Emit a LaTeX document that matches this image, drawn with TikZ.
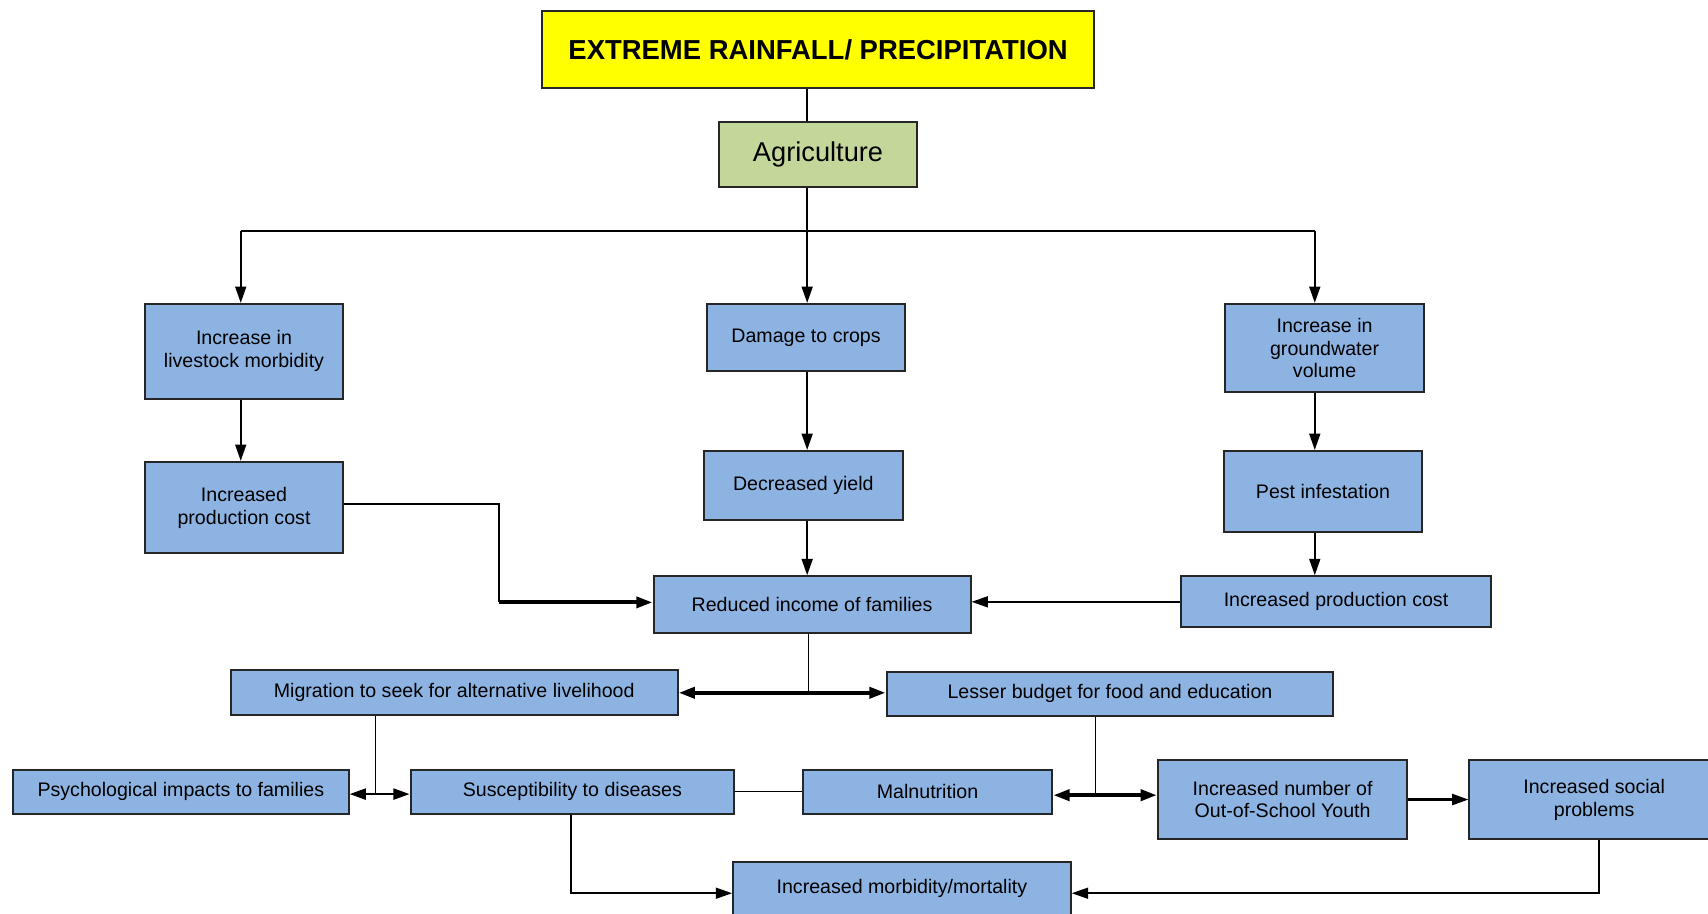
\documentclass[tikz,border=0pt]{standalone}
\usepackage{fontspec}
\setmainfont{Liberation Sans}
\usetikzlibrary{arrows.meta}
\definecolor{boxblue}{RGB}{141,179,226}
\definecolor{boxgreen}{RGB}{196,215,155}
\definecolor{boxyellow}{RGB}{255,255,0}
\tikzset{
  stepbox/.style={draw=black!85, line width=0.9pt, fill=boxblue, inner sep=1pt,
    align=center, font=\fontsize{9}{10.5}\selectfont},
  link/.style={line width=0.9pt, draw=black},
  thinlink/.style={line width=0.5pt, draw=black},
  boldlink/.style={line width=1.8pt, draw=black},
  tip/.style={-{Triangle[length=7.5pt,width=5pt]}},
  bitip/.style={{Triangle[length=7.5pt,width=5pt]}-{Triangle[length=7.5pt,width=5pt]}},
}
\begin{document}
\begin{tikzpicture}[x=0.5pt,y=-0.5pt]
\useasboundingbox (0,0) rectangle (1568,839);
\clip (0,0) rectangle (1568,839);

% top of the tree
\node[draw=black!85, line width=0.9pt, fill=boxyellow, minimum width=253pt, minimum height=35.5pt,
  font=\fontsize{12.6}{14}\selectfont\bfseries] (title) at (751,45.5) {EXTREME RAINFALL/ PRECIPITATION};
\node[draw=black!85, line width=0.9pt, fill=boxgreen, minimum width=91pt, minimum height=30pt,
  font=\fontsize{12.5}{15}\selectfont] (agri) at (751,142) {Agriculture};

% first level
\node[stepbox, minimum width=91pt, minimum height=43.5pt] (live) at (224,322.5) {Increase in\\livestock morbidity};
\node[stepbox, minimum width=91pt, minimum height=31pt] (crops) at (740,310) {Damage to crops};
\node[stepbox, minimum width=91pt, minimum height=40.5pt] (ground) at (1216,319.5) {Increase in\\groundwater\\volume};

% second level
\node[stepbox, minimum width=91pt, minimum height=42pt] (costL) at (224,466) {Increased\\production cost};
\node[stepbox, minimum width=91.5pt, minimum height=31.5pt] (yield) at (737.5,445.5) {Decreased yield};
\node[stepbox, minimum width=90.5pt, minimum height=37pt] (pest) at (1214.5,451) {Pest infestation};

% income level
\node[stepbox, minimum width=145.5pt, minimum height=26pt] (income) at (745.5,555) {Reduced income of families};
\node[stepbox, minimum width=142.5pt, minimum height=23.5pt] (costR) at (1226.5,552.5) {Increased production cost};

% consequences
\node[stepbox, minimum width=205pt, minimum height=20.5pt] (migr) at (417,635.5) {Migration to seek for alternative livelihood};
\node[stepbox, minimum width=205pt, minimum height=20pt] (budget) at (1019,637) {Lesser budget for food and education};
\node[stepbox, minimum width=154pt, minimum height=20pt] (psych) at (166,727) {Psychological impacts to families};
\node[stepbox, minimum width=148.5pt, minimum height=20pt] (susc) at (525.5,727) {Susceptibility to diseases};
\node[stepbox, minimum width=114.5pt, minimum height=20pt] (maln) at (851.5,727) {Malnutrition};
\node[stepbox, minimum width=114.5pt, minimum height=36pt] (osy) at (1177.5,734) {Increased number of\\Out-of-School Youth};
\node[stepbox, minimum width=114.5pt, minimum height=36pt] (social) at (1463.5,734) {Increased social\\problems};
\node[stepbox, minimum width=155pt, minimum height=25pt] (morb) at (828,816) {Increased morbidity/mortality};

% guide columns and bends
\coordinate (c741) at (741,0);
\coordinate (busL) at (221,212);
\coordinate (busM) at (741,212);
\coordinate (busR) at (1207,212);
\coordinate (c221) at (221,0);
\coordinate (c1207) at (1207,0);
\coordinate (r463) at (0,463);
\coordinate (knee) at (458,553);
\coordinate (split) at (742,636);
\coordinate (jL) at (345,729);
\coordinate (c345) at (345,0);
\coordinate (jR) at (1006,730);
\coordinate (c1006) at (1006,0);
\coordinate (c524) at (524,0);
\coordinate (c1468) at (1468,0);
\coordinate (low) at (0,820);

% title to agriculture and the bus
\draw[link] (title.south -| c741) -- (agri.north -| c741);
\draw[link] (agri.south -| c741) -- (busM);
\draw[link, line width=1.2pt] (busL) -- (busR);
\draw[link, tip] (busL) -- (live.north -| c221);
\draw[link, tip] (busM) -- (crops.north -| c741);
\draw[link, tip] (busR) -- (ground.north -| c1207);

% chains downwards
\draw[link, tip] (live.south -| c221) -- (costL.north -| c221);
\draw[link, tip] (crops.south -| c741) -- (yield.north -| c741);
\draw[link, tip] (ground.south -| c1207) -- (pest.north -| c1207);
\draw[link, tip] (yield.south -| c741) -- (income.north -| c741);
\draw[link, tip] (pest.south -| c1207) -- (costR.north -| c1207);

% into reduced income
\draw[link] (costL.east |- r463) -| (knee);
\draw[boldlink, tip] (knee) -- (income.west |- knee);
\draw[link, tip] (costR.west) -- (costR.west -| income.east);

% split below reduced income
\draw[thinlink] (income.south -| split) -- (split);
\draw[boldlink, bitip] (migr.east |- split) -- (budget.west |- split);

% migration branch
\draw[thinlink] (migr.south -| c345) -- (jL);
\draw[link, line width=1.2pt, bitip] (psych.east |- jL) -- (susc.west |- jL);
\draw[thinlink] (susc.east) -- (maln.west);

% budget branch
\draw[thinlink] (budget.south -| c1006) -- (jR);
\draw[boldlink, bitip] (maln.east |- jR) -- (osy.west |- jR);
\draw[link, line width=1.2pt, tip] (osy.east) -- (social.west);

% towards morbidity/mortality
\draw[link, tip] (susc.south -| c524) -- (c524 |- low) -- (morb.west |- low);
\draw[link, tip] (social.south -| c1468) -- (c1468 |- low) -- (morb.east |- low);
\end{tikzpicture}
\end{document}
